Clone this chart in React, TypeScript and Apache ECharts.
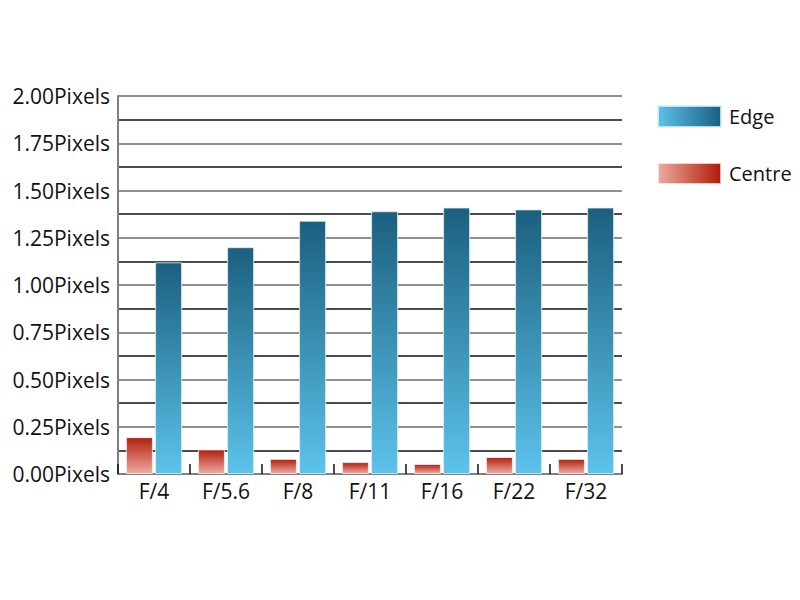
import React, { useEffect, useRef } from "react";
import * as echarts from "echarts";

const categories = ["F/4", "F/5.6", "F/8", "F/11", "F/16", "F/22", "F/32"];
const edgeValues = [1.12, 1.2, 1.34, 1.39, 1.41, 1.4, 1.41];
const centreValues = [0.195, 0.13, 0.08, 0.063, 0.053, 0.09, 0.08];

const FONT = "Open Sans";

export default function App() {
  const ref = useRef<HTMLDivElement>(null);
  useEffect(() => {
    if (!ref.current) return;
    const chart = echarts.init(ref.current, undefined, { renderer: "svg" });
    const vGrad = (top: string, bottom: string) =>
      new echarts.graphic.LinearGradient(0, 0, 0, 1, [
        { offset: 0, color: top },
        { offset: 1, color: bottom },
      ]);
    const hGrad = (left: string, right: string) =>
      new echarts.graphic.LinearGradient(0, 0, 1, 0, [
        { offset: 0, color: left },
        { offset: 1, color: right },
      ]);
    chart.setOption({
      animation: false,
      backgroundColor: "#ffffff",
      grid: { left: 110, right: 186, top: 88, bottom: 134, containLabel: false },
      legend: {
        orient: "vertical",
        left: 649,
        top: 97,
        padding: 0,
        icon: "rect",
        itemWidth: 63,
        itemHeight: 21,
        itemGap: 34,
        textStyle: { fontFamily: FONT, fontSize: 20, color: "#111", padding: [0, 0, 0, 3] },
        data: [
          { name: "Edge", itemStyle: { color: hGrad("#5cc2ea", "#1a5f7f") } },
          { name: "Centre", itemStyle: { color: hGrad("#eeaaa2", "#b01a08") } },
        ],
      },
      xAxis: {
        type: "category",
        data: categories,
        axisLine: { lineStyle: { color: "#808080", width: 2 } },
        axisTick: { show: true, inside: true, length: 10, lineStyle: { color: "#111", width: 1.5 } },
        axisLabel: { fontFamily: FONT, fontSize: 21, color: "#111", margin: 6 },
      },
      yAxis: {
        type: "value",
        min: 0,
        max: 2,
        interval: 0.125,
        axisLine: { show: true, lineStyle: { color: "#808080", width: 2 } },
        axisTick: { show: false },
        axisLabel: {
          fontFamily: FONT,
          fontSize: 21,
          color: "#111",
          margin: 8,
          formatter: (v: number) =>
            Math.abs(v * 4 - Math.round(v * 4)) < 1e-9 ? v.toFixed(2) + "Pixels" : "",
        },
        splitLine: { lineStyle: { color: ["#6a6a6a", "#111111"], width: 1.5 } },
      },
      series: [
        {
          name: "Centre",
          type: "bar",
          data: centreValues,
          barWidth: 27,
          barGap: "8%",
          itemStyle: {
            color: vGrad("#b0200e", "#f0aaa2"),
            borderColor: "rgba(255,255,255,0.7)",
            borderWidth: 1,
          },
        },
        {
          name: "Edge",
          type: "bar",
          data: edgeValues,
          barWidth: 27,
          itemStyle: {
            color: vGrad("#1b5f7f", "#5cc3ea"),
            borderColor: "rgba(220,240,250,0.8)",
            borderWidth: 1,
          },
        },
      ],
    });
    return () => chart.dispose();
  }, []);
  return <div ref={ref} style={{ width: 800, height: 600 }} />;
}
